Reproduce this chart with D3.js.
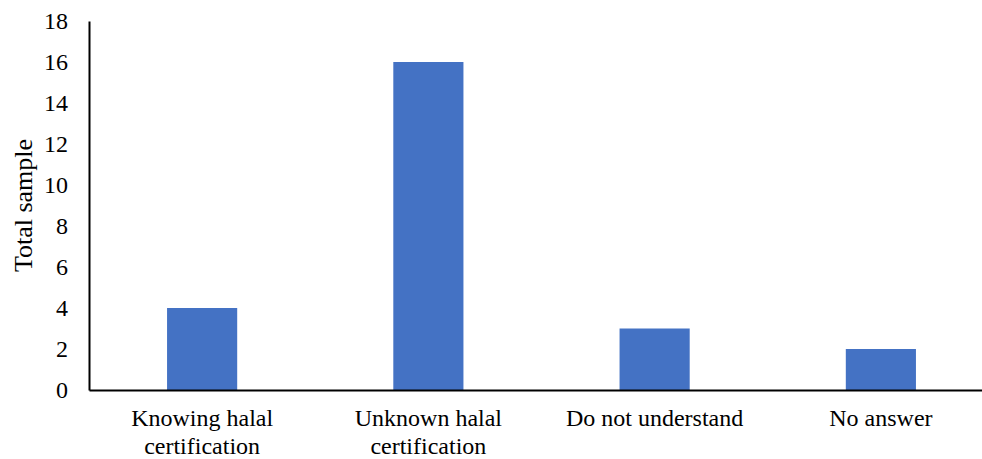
<!DOCTYPE html>
<html><head><meta charset="utf-8">
<script src="https://cdn.jsdelivr.net/npm/d3@7"></script>
<style>body{margin:0;background:#fff;}svg{display:block;} svg text{font-family:"Liberation Serif","Times New Roman","DejaVu Serif",serif;}</style>
</head><body>
<svg id="c" width="982" height="459"></svg>
<script>
const categories = [["Knowing halal","certification"],["Unknown halal","certification"],["Do not understand"],["No answer"]];
const values = [4, 16, 3, 2];
const yTicks = [0,2,4,6,8,10,12,14,16,18];
const yTitle = "Total sample";

(function(){
const svg = d3.select("#c");
const mLeft = 89, mRight = 994, mTop = 21, mBottom = 390;

const x = d3.scaleBand().domain(d3.range(categories.length)).range([mLeft, mRight]).paddingInner(0.69).paddingOuter(0.345);
const y = d3.scaleLinear().domain([0, 18]).range([mBottom, mTop]);

svg.selectAll("rect.bar").data(values).enter().append("rect")
  .attr("class","bar")
  .attr("x",(d,i)=>x(i)).attr("width",x.bandwidth())
  .attr("y",d=>y(d)).attr("height",d=>y(0)-y(d))
  .attr("fill","#4472C4");

const ya = svg.append("g").attr("transform",`translate(${mLeft},0)`)
  .call(d3.axisLeft(y).tickValues(yTicks).tickSize(0).tickPadding(21));
ya.attr("font-family",null).attr("font-size",null);
ya.select(".domain").attr("stroke","#000").attr("stroke-width",2);
ya.selectAll("text").attr("font-size",24).attr("fill","#000");

const xa = svg.append("g").attr("transform",`translate(0,${mBottom})`)
  .call(d3.axisBottom(x).tickSize(0).tickFormat(""));
xa.attr("font-family",null).attr("font-size",null);
xa.select(".domain").attr("stroke","#000").attr("stroke-width",2);
xa.selectAll(".tick").each(function(d){
  const t = d3.select(this).append("text").attr("fill","#000").attr("font-size",24).attr("text-anchor","middle");
  categories[d].forEach((line,j)=>{
    t.append("tspan").attr("x",0).attr("y",36 + j*28).text(line);
  });
});

svg.append("text").attr("transform",`translate(32,${(mTop+mBottom)/2}) rotate(-90)`)
  .attr("text-anchor","middle").attr("font-size",26).attr("fill","#000").text(yTitle);
})();
</script>
</body></html>
